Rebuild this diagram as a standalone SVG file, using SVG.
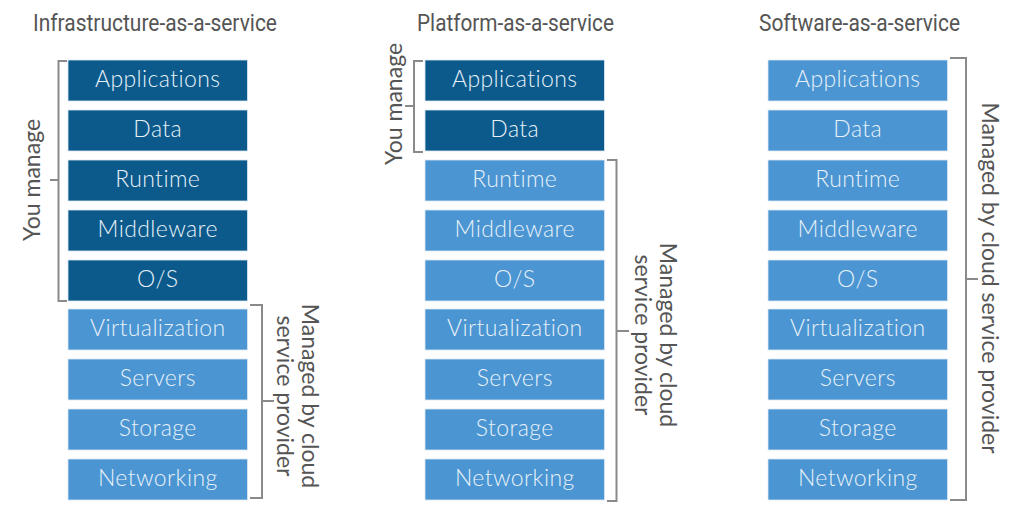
<svg xmlns="http://www.w3.org/2000/svg" width="1024" height="516" viewBox="0 0 1024 516">
<style>
.title{font-family:Roboto,"Liberation Sans",sans-serif;font-size:23px;fill:#555}
.box rect{stroke:#dbe9f5;stroke-width:0.8}
.dark rect{fill:#0b5a8b}
.light rect{fill:#4a95d2}
.box text{font-family:Lato,"Open Sans",sans-serif;font-size:23px;font-weight:300;letter-spacing:0.4px;fill:#e8f1f9;text-anchor:middle}
.br{fill:none;stroke:#8a8a8a;stroke-width:2}
.side{font-family:Lato,"Open Sans",sans-serif;font-size:23px;font-weight:400;fill:#555;text-anchor:middle}
</style>
<rect width="1024" height="516" fill="#fff"/>
<text class="title" x="33" y="31" textLength="244" lengthAdjust="spacingAndGlyphs">Infrastructure-as-a-service</text>
<text class="title" x="417" y="31" textLength="197" lengthAdjust="spacingAndGlyphs">Platform-as-a-service</text>
<text class="title" x="759" y="31" textLength="201" lengthAdjust="spacingAndGlyphs">Software-as-a-service</text>

<g id="iaas">
<g id="iaas-applications" class="box dark"><rect x="68" y="60" width="179.5" height="41"/><text x="157.75" y="87">Applications</text></g>
<g id="iaas-data" class="box dark"><rect x="68" y="110" width="179.5" height="41"/><text x="157.75" y="137">Data</text></g>
<g id="iaas-runtime" class="box dark"><rect x="68" y="160" width="179.5" height="41"/><text x="157.75" y="187">Runtime</text></g>
<g id="iaas-middleware" class="box dark"><rect x="68" y="210" width="179.5" height="41"/><text x="157.75" y="237">Middleware</text></g>
<g id="iaas-os" class="box dark"><rect x="68" y="260" width="179.5" height="41"/><text x="157.75" y="287">O/S</text></g>
<g id="iaas-virtualization" class="box light"><rect x="68" y="309" width="179.5" height="41"/><text x="157.75" y="336">Virtualization</text></g>
<g id="iaas-servers" class="box light"><rect x="68" y="359" width="179.5" height="41"/><text x="157.75" y="386">Servers</text></g>
<g id="iaas-storage" class="box light"><rect x="68" y="409" width="179.5" height="41"/><text x="157.75" y="436">Storage</text></g>
<g id="iaas-networking" class="box light"><rect x="68" y="459" width="179.5" height="41"/><text x="157.75" y="486">Networking</text></g>
</g>

<g id="paas">
<g id="paas-applications" class="box dark"><rect x="425" y="60" width="179.5" height="41"/><text x="514.75" y="87">Applications</text></g>
<g id="paas-data" class="box dark"><rect x="425" y="110" width="179.5" height="41"/><text x="514.75" y="137">Data</text></g>
<g id="paas-runtime" class="box light"><rect x="425" y="160" width="179.5" height="41"/><text x="514.75" y="187">Runtime</text></g>
<g id="paas-middleware" class="box light"><rect x="425" y="210" width="179.5" height="41"/><text x="514.75" y="237">Middleware</text></g>
<g id="paas-os" class="box light"><rect x="425" y="260" width="179.5" height="41"/><text x="514.75" y="287">O/S</text></g>
<g id="paas-virtualization" class="box light"><rect x="425" y="309" width="179.5" height="41"/><text x="514.75" y="336">Virtualization</text></g>
<g id="paas-servers" class="box light"><rect x="425" y="359" width="179.5" height="41"/><text x="514.75" y="386">Servers</text></g>
<g id="paas-storage" class="box light"><rect x="425" y="409" width="179.5" height="41"/><text x="514.75" y="436">Storage</text></g>
<g id="paas-networking" class="box light"><rect x="425" y="459" width="179.5" height="41"/><text x="514.75" y="486">Networking</text></g>
</g>

<g id="saas">
<g id="saas-applications" class="box light"><rect x="768" y="60" width="179.5" height="41"/><text x="857.75" y="87">Applications</text></g>
<g id="saas-data" class="box light"><rect x="768" y="110" width="179.5" height="41"/><text x="857.75" y="137">Data</text></g>
<g id="saas-runtime" class="box light"><rect x="768" y="160" width="179.5" height="41"/><text x="857.75" y="187">Runtime</text></g>
<g id="saas-middleware" class="box light"><rect x="768" y="210" width="179.5" height="41"/><text x="857.75" y="237">Middleware</text></g>
<g id="saas-os" class="box light"><rect x="768" y="260" width="179.5" height="41"/><text x="857.75" y="287">O/S</text></g>
<g id="saas-virtualization" class="box light"><rect x="768" y="309" width="179.5" height="41"/><text x="857.75" y="336">Virtualization</text></g>
<g id="saas-servers" class="box light"><rect x="768" y="359" width="179.5" height="41"/><text x="857.75" y="386">Servers</text></g>
<g id="saas-storage" class="box light"><rect x="768" y="409" width="179.5" height="41"/><text x="857.75" y="436">Storage</text></g>
<g id="saas-networking" class="box light"><rect x="768" y="459" width="179.5" height="41"/><text x="857.75" y="486">Networking</text></g>
</g>

<g id="connectors">
<path class="br" d="M67 61 H58.5 V301 H67 M58.5 180 H50"/>
<path class="br" d="M250 305 H262 V498 H250 M262 401 H274"/>
<path class="br" d="M423 61 H414 V152 H423 M414 106 H405"/>
<path class="br" d="M607 160 H616.5 V501 H607 M616.5 331 H629"/>
<path class="br" d="M950 58 H966 V500 H950 M966 279 H978"/>
</g>

<g id="labels">
<text class="side" transform="translate(40,180) rotate(-90)">You manage</text>
<text class="side" transform="translate(401.5,104) rotate(-90)">You manage</text>
<text class="side" transform="translate(302,396) rotate(90)">Managed by cloud</text>
<text class="side" transform="translate(277,396) rotate(90)">service provider</text>
<text class="side" transform="translate(660,335) rotate(90)">Managed by cloud</text>
<text class="side" transform="translate(635,335) rotate(90)">service provider</text>
<text class="side" transform="translate(982,278) rotate(90)">Managed by cloud service provider</text>
</g>
</svg>
